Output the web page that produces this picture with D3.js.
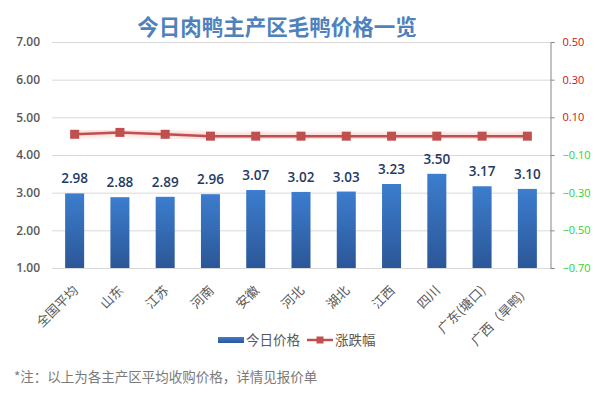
<!DOCTYPE html>
<html>
<head>
<meta charset="utf-8">
<script src="https://cdn.jsdelivr.net/npm/d3@7"></script>
<style>
  html, body { margin: 0; padding: 0; background: #fff; }
  svg { display: block; }
</style>
</head>
<body>
<svg id="chart" width="595" height="394"></svg>
<script>
const categories = ["全国平均", "山东", "江苏", "河南", "安徽", "河北", "湖北", "江西", "四川", "广东(塘口)", "广西（旱鸭）"];
const prices = [2.98, 2.88, 2.89, 2.96, 3.07, 3.02, 3.03, 3.23, 3.50, 3.17, 3.10];
const changes = [0.01, 0.02, 0.01, 0.00, 0.00, 0.00, 0.00, 0.00, 0.00, 0.00, 0.00];
const leftTicks = [1, 2, 3, 4, 5, 6, 7];
const rightTicks = [-0.7, -0.5, -0.3, -0.1, 0.1, 0.3, 0.5];
const titleText = "今日肉鸭主产区毛鸭价格一览";
const seriesNames = ["今日价格", "涨跌幅"];
const noteText = "*注：以上为各主产区平均收购价格，详情见报价单";

const svg = d3.select("#chart");
const font = "'Open Sans', 'Noto Sans CJK SC', sans-serif";
const cjk = "'Noto Sans CJK SC', 'Open Sans', sans-serif";

const plot = { left: 52, right: 550, top: 42, bottom: 268 };

const x = d3.scaleBand().domain(categories).range([plot.left, plot.right]).paddingInner(0.58).paddingOuter(0.29);
const yL = d3.scaleLinear().domain([1, 7]).range([plot.bottom, plot.top]);
const yR = d3.scaleLinear().domain([-0.7, 0.5]).range([plot.bottom, plot.top]);

const defs = svg.append("defs");
const grad = defs.append("linearGradient").attr("id", "barGrad").attr("x1", 0).attr("y1", 0).attr("x2", 0).attr("y2", 1);
grad.append("stop").attr("offset", "0%").attr("stop-color", "#3c7dce");
grad.append("stop").attr("offset", "100%").attr("stop-color", "#2b5797");
const gradL = defs.append("linearGradient").attr("id", "legGrad").attr("x1", 0).attr("y1", 0).attr("x2", 0).attr("y2", 1);
gradL.append("stop").attr("offset", "0%").attr("stop-color", "#3c7dce");
gradL.append("stop").attr("offset", "100%").attr("stop-color", "#2b5797");
const glow = defs.append("filter").attr("id", "glow").attr("x", "-10%").attr("y", "-50%").attr("width", "120%").attr("height", "200%");
glow.append("feGaussianBlur").attr("stdDeviation", 2.5);

// title
svg.append("text").attr("x", 277).attr("y", 35).attr("text-anchor", "middle")
  .attr("font-family", cjk).attr("font-weight", "bold").attr("font-size", 21.5)
  .attr("fill", "#4f81bd").text(titleText);

// gridlines
svg.append("g").selectAll("line").data(leftTicks).join("line")
  .attr("x1", plot.left).attr("x2", plot.right)
  .attr("y1", d => yL(d) + 0.5).attr("y2", d => yL(d) + 0.5)
  .attr("stroke", "#d9d9d9").attr("stroke-width", 1);

// left axis labels
const leftAxis = d3.axisLeft(yL).tickValues(leftTicks).tickFormat(d3.format(".2f")).tickSize(0).tickPadding(12);
const gL = svg.append("g").attr("transform", `translate(${plot.left},0)`).call(leftAxis);
gL.select(".domain").remove();
gL.selectAll("text").attr("font-family", font).attr("font-size", 12).attr("font-weight", 600).attr("fill", "#595959");

// right axis
const rightAxis = d3.axisRight(yR).tickValues(rightTicks).tickFormat(d3.format(".2f")).tickSize(4).tickPadding(8);
const gR = svg.append("g").attr("transform", `translate(${plot.right + 0.5},0)`).call(rightAxis);
gR.select(".domain").attr("stroke", "#868686");
gR.selectAll(".tick line").attr("stroke", "#868686");
gR.selectAll("text").attr("font-family", font).attr("font-size", 11)
  .attr("fill", d => d > 0 ? "#d01010" : "#2fd02f");

// bars
svg.append("g").selectAll("rect").data(prices).join("rect")
  .attr("x", (d, i) => x(categories[i]))
  .attr("width", x.bandwidth())
  .attr("y", d => yL(d))
  .attr("height", d => yL(1) - yL(d))
  .attr("fill", "url(#barGrad)");

// bar labels
svg.append("g").selectAll("text").data(prices).join("text")
  .attr("x", (d, i) => x(categories[i]) + x.bandwidth() / 2)
  .attr("y", d => yL(d) - 10)
  .attr("text-anchor", "middle")
  .attr("font-family", font).attr("font-size", 13.5).attr("font-weight", 600)
  .attr("fill", "#1f3b63")
  .text(d => d3.format(".2f")(d));

// line
const line = d3.line().x((d, i) => x(categories[i]) + x.bandwidth() / 2).y(d => yR(d));
svg.append("path").datum(changes).attr("d", line).attr("fill", "none")
  .attr("stroke", "#f2a0a0").attr("stroke-width", 5).attr("opacity", 0.6).attr("filter", "url(#glow)");
svg.append("path").datum(changes).attr("d", line).attr("fill", "none")
  .attr("stroke", "#c0504d").attr("stroke-width", 2.5);
svg.append("g").selectAll("rect").data(changes).join("rect")
  .attr("x", (d, i) => x(categories[i]) + x.bandwidth() / 2 - 4.5)
  .attr("y", d => yR(d) - 4.5)
  .attr("width", 9).attr("height", 9)
  .attr("fill", "#c0504d");

// x labels
svg.append("g").selectAll("text").data(categories).join("text")
  .attr("transform", d => `translate(${x(d) + x.bandwidth() / 2 + 1},${288}) rotate(-45)`)
  .attr("text-anchor", "end")
  .attr("dy", "0.35em")
  .attr("font-family", cjk).attr("font-size", 13).attr("fill", "#595959")
  .text(d => d);

// legend
const leg = svg.append("g");
leg.append("rect").attr("x", 218).attr("y", 337).attr("width", 26).attr("height", 6).attr("fill", "url(#legGrad)");
leg.append("text").attr("x", 246).attr("y", 345).attr("font-family", cjk).attr("font-size", 13.5)
  .attr("fill", "#595959").text(seriesNames[0]);
leg.append("line").attr("x1", 307).attr("x2", 333).attr("y1", 340).attr("y2", 340)
  .attr("stroke", "#c0504d").attr("stroke-width", 2.5);
leg.append("rect").attr("x", 316.5).attr("y", 336.5).attr("width", 7).attr("height", 7).attr("fill", "#c0504d");
leg.append("text").attr("x", 335).attr("y", 345).attr("font-family", cjk).attr("font-size", 13.5)
  .attr("fill", "#595959").text(seriesNames[1]);

// note
svg.append("text").attr("x", 14).attr("y", 382).attr("font-family", cjk).attr("font-size", 13.5)
  .attr("fill", "#7a7a7a").text(noteText);
</script>
</body>
</html>
